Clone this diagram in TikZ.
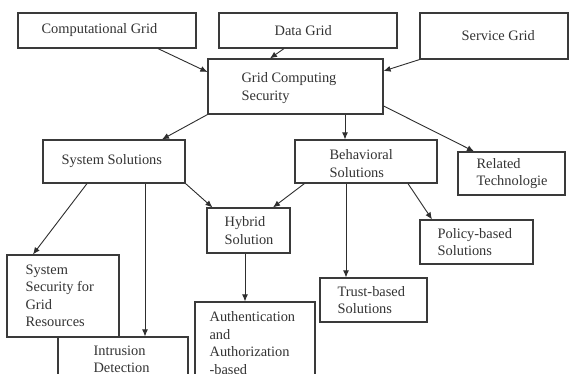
\documentclass[tikz,border=0pt]{standalone}
\usepackage{fontspec}
\setmainfont{Liberation Serif}
\usetikzlibrary{arrows.meta}
\definecolor{boxc}{HTML}{3A3A3A}
\definecolor{linec}{HTML}{2E2E2E}
\definecolor{txtc}{HTML}{333333}
\begin{document}
\begin{tikzpicture}[x=1pt,y=-1pt,
  box/.style={draw=boxc,line width=1.2pt,inner sep=0pt},
  lbl/.style={anchor=west,align=left,inner sep=0pt,text=txtc,font=\fontsize{14.4}{17.5}\selectfont},
  arr/.style={draw=linec,line width=0.9pt,-{Latex[length=7pt,width=6pt]}}]
\path[use as bounding box,clip] (0,0) rectangle (570,374);
\fill[white] (0,0) rectangle (570,374);
% boxes
\node[box,minimum width=178pt,minimum height=35pt] (comp) at (107,30.5) {};
\node[box,minimum width=178pt,minimum height=35pt] (data) at (308,30.5) {};
\node[box,minimum width=148pt,minimum height=46pt] (serv) at (494,36) {};
\node[box,minimum width=175pt,minimum height=55pt] (gcs) at (295.5,86.5) {};
\node[box,minimum width=142pt,minimum height=43pt] (sys) at (114,161.5) {};
\node[box,minimum width=142pt,minimum height=43pt] (beh) at (366,161.5) {};
\node[box,minimum width=107pt,minimum height=43pt] (rel) at (511.5,173.5) {};
\node[box,minimum width=83pt,minimum height=45pt] (hyb) at (248.5,230.5) {};
\node[box,minimum width=113pt,minimum height=44pt] (pol) at (476.5,242) {};
\node[box,minimum width=107pt,minimum height=44pt] (tru) at (373.5,300) {};
\node[box,minimum width=112pt,minimum height=82pt] (ssg) at (63,296) {};
\node[box,minimum width=130pt,minimum height=45pt] (intr) at (123,359.5) {};
\node[box,minimum width=120pt,minimum height=82pt] (auth) at (255,343) {};
% texts
\node[lbl] (compt) at ([xshift=24pt]comp.west) {Computational Grid};
\node[lbl] (datat) at ([xshift=56pt]data.west) {Data Grid};
\node[lbl] (servt) at ([xshift=42pt]serv.west) {Service Grid};
\node[lbl] (gcst) at ([xshift=34pt,yshift=-1.5pt]gcs.west) {Grid Computing\\Security};
\node[lbl] (syst) at ([xshift=19pt]sys.west) {System Solutions};
\node[lbl] (beht) at ([xshift=35pt,yshift=-2pt]beh.west) {Behavioral\\Solutions};
\node[lbl] (relt) at ([xshift=19pt]rel.west) {Related\\Technologie};
\node[lbl] (hybt) at ([xshift=18pt]hyb.west) {Hybrid\\Solution};
\node[lbl] (polt) at ([xshift=18pt]pol.west) {Policy-based\\Solutions};
\node[lbl] (trut) at ([xshift=18pt]tru.west) {Trust-based\\Solutions};
\node[lbl] (ssgt) at ([xshift=19pt]ssg.west) {System\\Security for\\Grid\\Resources};
\node[lbl] (intrt) at ([xshift=36pt]intr.west) {Intrusion\\Detection};
\node[lbl] (autht) at ([xshift=15pt]auth.west) {Authentication\\and\\Authorization\\-based};
% connectors
\draw[arr] ([xshift=51pt]comp.south) -- ([yshift=14.5pt]gcs.west);
\draw[arr] ([xshift=-24pt]data.south) -- ([xshift=-25.5pt]gcs.north);
\draw[arr] (serv.south west) -- ([yshift=15.5pt]gcs.east);
\draw[arr] (gcs.south west) -- ([xshift=48pt]sys.north);
\draw[arr] ([xshift=49.5pt]gcs.south) -- ([xshift=-21pt]beh.north);
\draw[arr] ([yshift=-19.5pt]gcs.east) -- ([xshift=-37.5pt]rel.north);
\draw[arr] (sys.south east) -- ([xshift=6pt]hyb.north west);
\draw[arr] ([xshift=10pt]beh.south west) -- ([xshift=24.5pt]hyb.north);
\draw[arr] ([xshift=42pt]beh.south) -- ([xshift=-44.5pt]pol.north);
\draw[arr] ([xshift=-20pt]beh.south) -- ([xshift=-27.5pt]tru.north);
\draw[arr] ([xshift=-27pt]sys.south) -- ([xshift=-30pt]ssg.north);
\draw[arr] ([xshift=31pt]sys.south) -- ([xshift=22pt]intr.north);
\draw[arr] ([xshift=-3.5pt]hyb.south) -- ([xshift=-10pt]auth.north);
\end{tikzpicture}
\end{document}
